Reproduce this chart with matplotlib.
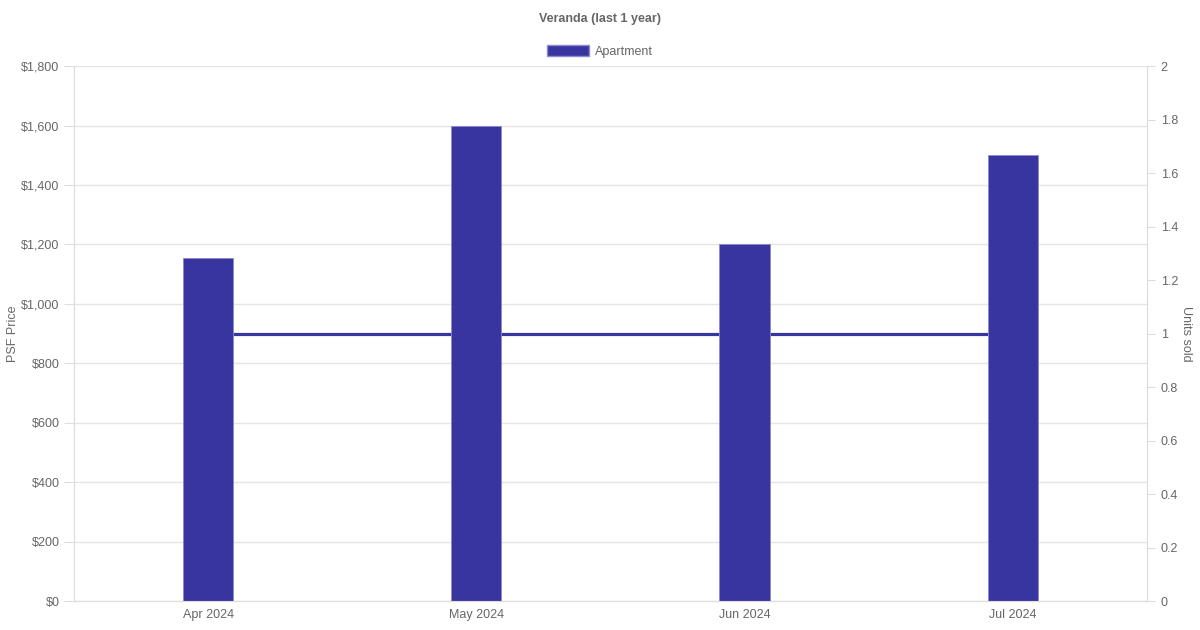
import matplotlib.pyplot as plt
from matplotlib.ticker import FuncFormatter, MultipleLocator
from matplotlib.patches import Patch

plt.rcParams['font.family'] = ['Liberation Sans', 'DejaVu Sans']

# data
months = ['Apr 2024', 'May 2024', 'Jun 2024', 'Jul 2024']
psf_price = [1155, 1598, 1202, 1501]
units_sold = [1, 1, 1, 1]

bar_color = '#3935a0'
text_color = '#666666'
grid_color = '#e5e5e5'

fig = plt.figure(figsize=(12, 6.3), dpi=100)
ax = fig.add_axes([0.0617, 0.046, 0.894, 0.849])
ax2 = ax.twinx()

x = list(range(len(months)))

# units sold line on right axis, drawn behind bars
ax2.plot(x, units_sold, color=bar_color, linewidth=2.3, solid_capstyle='butt')
ax2.set_ylim(0, 2)
ax2.yaxis.set_major_locator(MultipleLocator(0.2))
ax2.yaxis.set_major_formatter(FuncFormatter(lambda v, p: f'{v:g}'))
ax2.set_ylabel('Units sold', color=text_color, fontsize=9, rotation=-90, labelpad=10)

# bars on left axis
ax.set_zorder(ax2.get_zorder() + 1)
ax.patch.set_visible(False)
ax.bar(x, psf_price, width=0.187, color=bar_color, edgecolor='#8c8ad0', linewidth=0.6)
ax.set_ylim(0, 1800)
ax.set_xlim(-0.5, len(months) - 0.5)
ax.yaxis.set_major_locator(MultipleLocator(200))
ax.yaxis.set_major_formatter(FuncFormatter(lambda v, p: f'${v:,.0f}'))
ax.set_xticks(x)
ax.set_xticklabels(months)
ax.set_ylabel('PSF Price', color=text_color, fontsize=9, labelpad=1.5)
ax.grid(axis='y', color=grid_color, linewidth=1)
ax.set_axisbelow(True)

for a in (ax, ax2):
    for s in a.spines.values():
        s.set_color('#dddddd')
    a.spines['top'].set_visible(False)
    a.tick_params(colors='#dddddd', labelcolor=text_color, labelsize=9, length=7)
ax.tick_params(axis='x', length=0, pad=6)
ax2.tick_params(axis='y', length=6, pad=4)

fig.suptitle('Veranda (last 1 year)', x=0.5, y=0.980, fontsize=9, fontweight='bold',
             color=text_color)
fig.legend(handles=[Patch(facecolor=bar_color, edgecolor='#8c8ad0', label='Apartment')],
           loc='center', bbox_to_anchor=(0.5, 0.918), frameon=False, fontsize=9,
           labelcolor=text_color, handlelength=3.3, handleheight=0.9, handletextpad=0.5)

fig.savefig('out.png', dpi=100)
